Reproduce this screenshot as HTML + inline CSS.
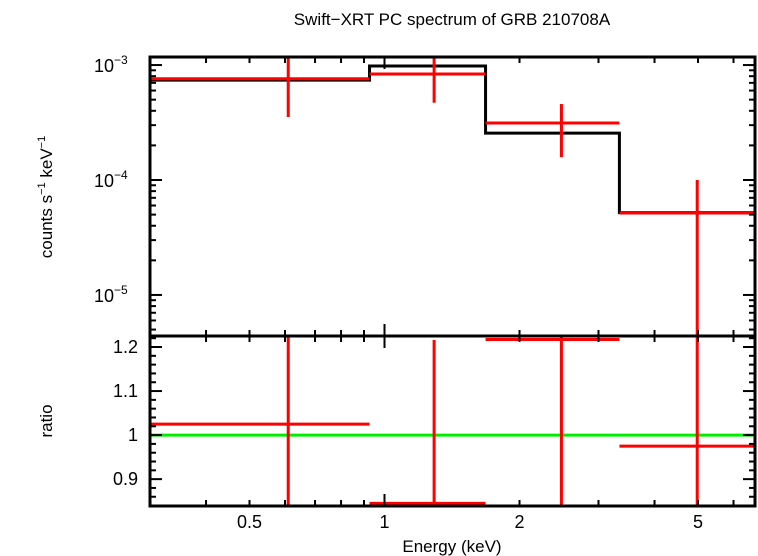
<!DOCTYPE html>
<html><head><meta charset="utf-8"><style>
body{margin:0;background:#fff}
svg{display:block;font-family:"Liberation Sans",sans-serif}
</style></head><body>
<svg id="c" width="758" height="556">
<text x="452" y="25" font-size="17" text-anchor="middle">Swift−XRT PC spectrum of GRB 210708A</text>
<text x="0" y="0" font-size="17" text-anchor="middle" transform="translate(52,197) rotate(-90)">counts s<tspan font-size="11" dy="-7">−1</tspan><tspan dy="7"> keV</tspan><tspan font-size="11" dy="-7">−1</tspan></text>
<text x="0" y="0" font-size="17" text-anchor="middle" transform="translate(52,421) rotate(-90)">ratio</text>
<text x="452" y="552" font-size="17" text-anchor="middle">Energy (keV)</text>
<g id="g"></g>
</svg>
<script>
const binLo=[0.3,0.926,1.68,3.34];
const binHi=[0.926,1.68,3.34,6.7];
const binMid=[0.61,1.29,2.48,4.98];
const dataVal=[7.6e-4,8.35e-4,3.13e-4,5.16e-5];
const dataErrHi=[1.3e-3,1.2e-3,4.58e-4,1.0e-4];
const dataErrLo=[3.53e-4,4.7e-4,1.58e-4,1e-7];
const modelVal=[7.4e-4,9.8e-4,2.56e-4,5.2e-5];
const ratioVal=[1.025,0.845,1.217,0.975];
const ratioErrHi=[1.5,1.216,1.5,1.5];
const ratioErrLo=[0.5,0.5,0.5,0.5];
const xTicks=[0.5,1,2,5];
const xTickLabels=["0.5","1","2","5"];
const ratioTicks=[0.9,1.0,1.1,1.2];
const ratioTickLabels=["0.9","1","1.1","1.2"];

const L=150,R=755,T=57,M=336,B=506;
const xmin=0.3,xmax=6.7,ymin=-5.357,ymax=-2.93,rmin=0.839,rmax=1.225;
const X=e=>L+(Math.log10(e)-Math.log10(xmin))/(Math.log10(xmax)-Math.log10(xmin))*(R-L);
const Y=v=>{let y=M-(Math.log10(v)-ymin)/(ymax-ymin)*(M-T);return Math.max(T,Math.min(M,y));};
const YR=v=>{let y=B-(v-rmin)/(rmax-rmin)*(B-M);return Math.max(M,Math.min(B,y));};
const g=document.getElementById('g');
const NS='http://www.w3.org/2000/svg';
function ln(x1,y1,x2,y2,c,w,name){const l=document.createElementNS(NS,'line');
l.setAttribute('x1',x1);l.setAttribute('y1',y1);l.setAttribute('x2',x2);l.setAttribute('y2',y2);
l.setAttribute('stroke',c);l.setAttribute('stroke-width',w);


g.appendChild(l);return l;}
function tx(x,y,s,anchor,name){const t=document.createElementNS(NS,'text');
t.setAttribute('x',x);t.setAttribute('y',y);t.setAttribute('font-size','18');t.setAttribute('text-anchor',anchor);t.textContent=s;


g.appendChild(t);return t;}
ln(L,YR(1),R,YR(1),'#00ee00',3,'unity-line');
let p='';
for(let i=0;i<binLo.length;i++){const y=Y(modelVal[i]);p+=(i?'L':'M')+X(binLo[i])+','+y+'L'+X(binHi[i])+','+y;}
const mp=document.createElementNS(NS,'path');mp.setAttribute('d',p);mp.setAttribute('fill','none');mp.setAttribute('stroke','#000');mp.setAttribute('stroke-width','3');


g.appendChild(mp);
for(let i=0;i<binLo.length;i++){
 ln(X(binLo[i]),Y(dataVal[i]),X(binHi[i]),Y(dataVal[i]),'#f00',3,'data-bin-'+i);
 ln(X(binMid[i]),Y(dataErrHi[i]),X(binMid[i]),Y(dataErrLo[i]),'#f00',3,'data-error-'+i);
 ln(X(binLo[i]),YR(ratioVal[i]),X(binHi[i]),YR(ratioVal[i]),'#f00',3,'ratio-bin-'+i);
 ln(X(binMid[i]),YR(ratioErrHi[i]),X(binMid[i]),YR(ratioErrLo[i]),'#f00',3,'ratio-error-'+i);
}
const fr=document.createElementNS(NS,'rect');fr.setAttribute('x',L);fr.setAttribute('y',T);fr.setAttribute('width',R-L);fr.setAttribute('height',B-T);
fr.setAttribute('fill','none');fr.setAttribute('stroke','#000');fr.setAttribute('stroke-width','3');


g.appendChild(fr);
ln(L,M,R,M,'#000',3,'panel-divider');
for(let d=0.1;d<10;d*=10){for(let k=1;k<10;k++){const e=d*k;if(e<xmin||e>xmax)continue;const x=X(e);
 const big=Math.abs(e-1)<1e-9?12:6;
 [T,M,B].forEach((y0,j)=>{if(j===0||j===2){const s=j===0?1:-1;ln(x,y0,x,y0+s*big,'#000',2,'x-tick');}else{ln(x,y0-big,x,y0+big,'#000',2,'x-tick');}});
}}
xTicks.forEach((e,i)=>tx(X(e),528,xTickLabels[i],'middle','x-tick-label'));
for(let dec=-6;dec<=-3;dec++){for(let k=1;k<10;k++){const v=k*Math.pow(10,dec);const lv=Math.log10(v);if(lv<ymin||lv>ymax)continue;
 const y=Y(v);const w=k===1?12:6;ln(L,y,L+w,y,'#000',2,'y-tick');ln(R,y,R-w,y,'#000',2,'y-tick');
 if(k===1){const t=tx(L-30,y+7,'10','end','y-tick-label');const s=document.createElementNS(NS,'tspan');s.setAttribute('font-size','12');s.setAttribute('dy','-8');s.textContent='−'+(-dec);t.appendChild(s);
 t.setAttribute('x',L-56);t.setAttribute('text-anchor','start');}
}}
for(let v=0.84;v<=1.225;v+=0.02){const y=YR(v);const maj=Math.abs(Math.round(v*10)-v*10)<1e-6;const w=maj?12:6;
 ln(L,y,L+w,y,'#000',2,'ratio-tick');ln(R,y,R-w,y,'#000',2,'ratio-tick');}
ratioTicks.forEach((v,i)=>tx(L-12,YR(v)+6,ratioTickLabels[i],'end','ratio-tick-label'));
</script>
</body></html>
